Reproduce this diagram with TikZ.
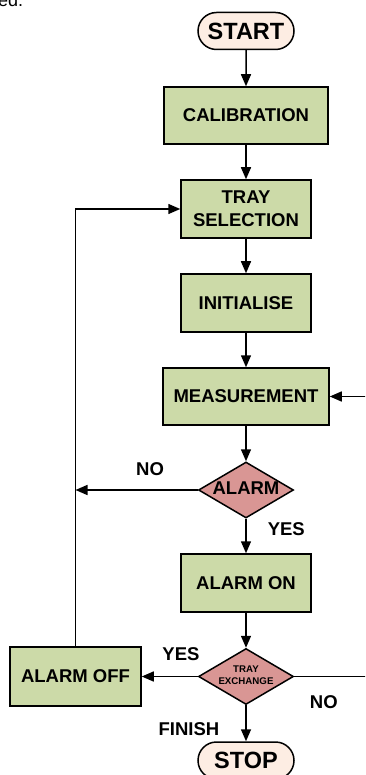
\documentclass[tikz,border=0pt]{standalone}
\usepackage{fontspec}
\setmainfont{Liberation Sans}
\usetikzlibrary{shapes.geometric,shapes.misc,arrows.meta}
\definecolor{boxgreen}{HTML}{CCDAA8}
\definecolor{alarmred}{HTML}{D99694}
\definecolor{pillpeach}{HTML}{FDEDE3}
\tikzset{
  stepbox/.style={draw, fill=boxgreen, line width=1.5pt, minimum width=130pt, minimum height=58pt, inner sep=2pt, align=center, font=\fontsize{18.5}{23}\selectfont\bfseries},
  ends/.style={draw, rounded rectangle, fill=pillpeach, line width=1.5pt, minimum width=96pt, minimum height=37pt, inner sep=0pt, font=\fontsize{23.5}{28}\selectfont\bfseries},
  choice/.style={draw, diamond, fill=alarmred, line width=1.5pt, minimum width=95pt, minimum height=56pt, inner sep=0pt},
  lbl/.style={inner sep=2pt, font=\fontsize{18.5}{23}\selectfont\bfseries},
  flow/.style={-{Triangle[length=12pt,width=10pt]}, line width=1.5pt}
}
\newcommand{\intext}[2]{\makebox[0pt]{\fontsize{#1}{1.25\dimexpr#1pt\relax}\selectfont\bfseries\begin{tabular}{@{}c@{}}#2\end{tabular}}}

\begin{document}
\begin{tikzpicture}[x=1pt, y=-1pt]
\useasboundingbox (0,0) rectangle (365,775);
\clip (0,0) rectangle (365,775);
\node[anchor=base west, inner sep=0pt, font=\fontsize{18}{18}\selectfont] (frag) at (-2,6.5) {ed.};
\node[ends] (start) at (246,31) {START};
\node[stepbox, minimum width=164pt, minimum height=57pt] (calib) at (246,115.5) {CALIBRATION};
\node[stepbox] (tray) at (246,209) {TRAY\\SELECTION};
\node[stepbox] (init) at (246,303) {INITIALISE};
\node[stepbox, minimum width=166pt, minimum height=57pt] (meas) at (246,396.5) {MEASUREMENT};
\node[choice] (alarm) at (246,490) {\intext{18.5}{ALARM}};
\node[stepbox] (alarmon) at (246,583) {ALARM ON};
\node[choice] (exch) at (246,676.5) {\intext{9.7}{TRAY\\EXCHANGE}};
\node[stepbox, minimum width=131pt, minimum height=59pt] (alarmoff) at (75.5,676.5) {ALARM OFF};
\node[ends] (stop) at (246,760.5) {STOP};
\coordinate (rt) at (372,676.5);
\draw[flow] (start) -- (calib);
\draw[flow] (calib) -- (tray);
\draw[flow] (tray) -- (init);
\draw[flow] (init) -- (meas);
\draw[flow] (meas) -- (alarm);
\draw[flow] (alarm) -- (alarmon) node[lbl, pos=0.3, right=19pt] {YES};
\draw[flow] (alarm) -- (alarm -| alarmoff) node[lbl, pos=0.39, above=12pt] {NO};
\draw[flow] (alarmon) -- (exch);
\draw[flow] (exch) -- (alarmoff) node[lbl, pos=0.3, above=13pt] {YES};
\draw[flow] (exch) -- (stop) node[lbl, pos=0.65, left=24pt] {FINISH};
\draw[flow] (alarmoff) |- (tray);
\draw[flow] (exch) -- (rt) node[lbl, pos=0.38, below=16pt] {NO} |- (meas);
\end{tikzpicture}
\end{document}
